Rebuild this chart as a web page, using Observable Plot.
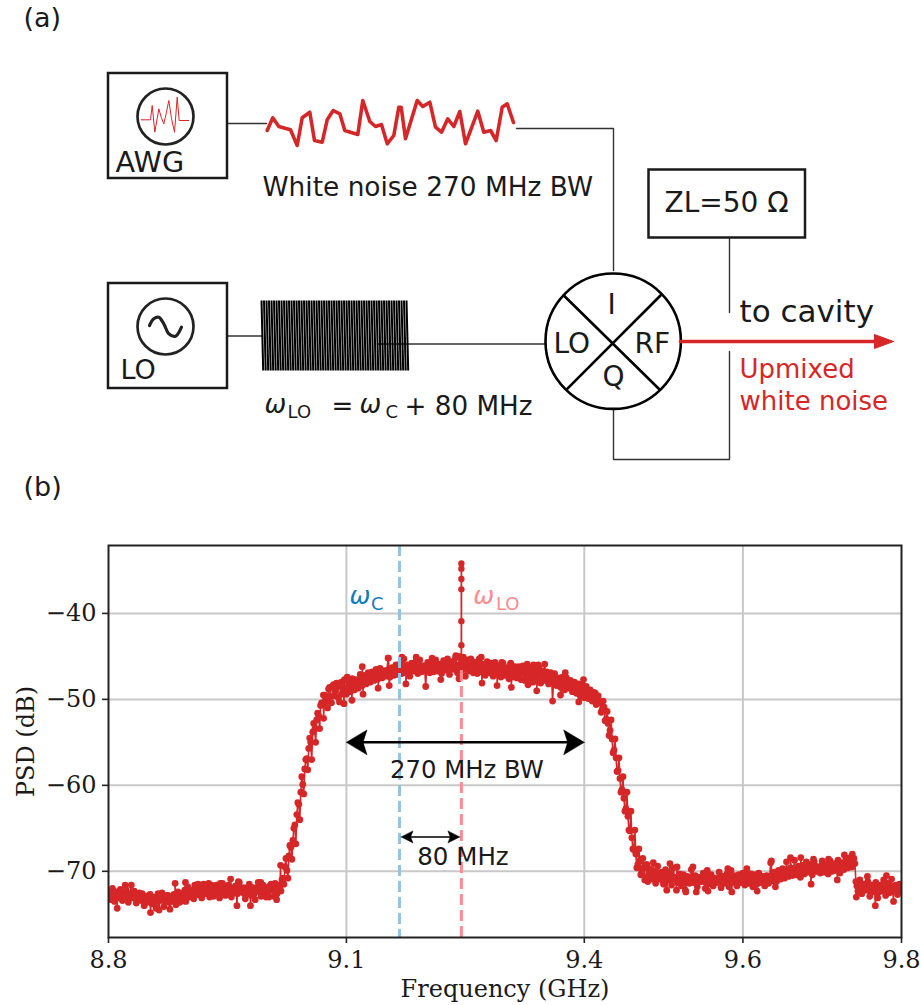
<!DOCTYPE html>
<html><head><meta charset="utf-8">
<script src="https://cdn.jsdelivr.net/npm/d3@7"></script>
<script src="https://cdn.jsdelivr.net/npm/@observablehq/plot@0.6"></script>
<style>html,body{margin:0;padding:0;background:#fff}svg{display:block}</style>
</head><body><div id="a"></div><div id="b"></div>
<script>
// ---- spectrum values (dB); each run starts at the given frequency
const stepGHz = 0.0025;
const lowLeftStart = 8.8;
const lowLeftPsd = [-72.5,-73.3,-72.0,-73.5,-72.4,-73.0,-72.1,-73.4,-72.7,-72.2,-73.6,-72.6,-73.1,-72.3,-73.7,-72.8,-73.2,-72.6,-74.0,-72.9,-73.5,-72.7,
-73.8,-73.0,-74.3,-72.6,-73.4,-72.5,-74.1,-73.2,-72.8,-74.4,-73.1,-72.7,-73.9,-72.4,-73.6,-73.0,-72.5,-73.5,-71.8,-73.0,-72.2,-73.2,-71.6,-72.7,
-72.0,-73.1,-71.5,-72.6,-72.1,-73.0,-71.6,-72.9,-72.3,-71.9,-73.1,-72.4,-71.7,-72.8,-72.2,-71.8,-73.0,-72.5,-71.7,-72.6,-71.3,-72.4,-71.9,-73.2,-72.2,-71.5,-72.8,-71.9,-73.3,-72.3,-71.7,-72.9,-71.6,-72.4,-71.9,-73.0,-71.5,-72.2,-71.4,-72.6,-71.6,-72.3];
const lowLeftPsd2 = [-72.8,-72.6,-73.0,-72.5,-73.1,-72.7,-72.4,-73.0,-72.9,-72.6,-73.2,-71.6,-73.0,-72.8,-73.3,-72.5,-73.4,-72.9,-73.2,-73.6,-72.8,-73.4,
-73.2,-73.6,-73.4,-74.5,-73.0,-73.2,-73.5,-72.8,-73.6,-73.5,-72.9,-73.4,-73.3,-73.1,-72.8,-73.2,-72.2,-72.6,-72.4,-72.3,-72.7,-71.6,-72.2,-72.5,
-72.5,-72.3,-72.3,-72.1,-71.4,-72.4,-72.4,-72.2,-71.6,-72.7,-72.5,-71.4,-72.2,-72.4,-71.6,-72.6,-72.3,-72.1,-72.2,-71.2,-72.0,-72.4,-72.6,-72.7,-71.8,-72.3,-72.3,-72.6,-72.1,-71.3,-72.4,-72.2,-72.0,-73.0,-72.5,-71.7,-72.1,-72.9,-72.0,-71.8,-72.0,-71.0];
const riseStart = 9.02;
const risePsd = [-70.8,-69.5,-69.9,-68.2,-67.2,-66.4,-64.6,-63.4,-62.2,-60.8,-59.9,-58.1,-56.9,-55.7,-55.0,-53.8,-53.5,-52.4,-51.9,-50.7,-50.6,-49.5,-50.2,-48.8,-49.7,-48.5,-49.6,-48.1,-49.8,-48.3,-49.4,-47.7];
const risePsd2 = [-71.5,-68.5,-70.8,-67.0,-68.6,-65.0,-66.8,-62.0,-64.0,-59.0,-61.0,-57.0,-58.2,-54.5,-57.0,-52.8,-55.0,-51.6,-53.4,-50.4,-52.2,-49.6,-51.0,-48.6,-50.4,-48.3,-49.0,-48.5,-50.3,-48.0,-48.9,-48.7];
const plateauStart = 9.10;
const plateauPsd = [-49.4,-47.9,-49.1,-47.6,-48.9,-47.7,-48.7,-47.1,
-48.4,-47.2,-48.2,-46.9,-48.0,-46.8,-47.8,-46.5,-47.6,-46.4,
-47.5,-46.7,-47.3,-45.2,-47.4,-46.3,-47.2,-46.0,-47.1,-45.9,
-47.0,-45.3,-46.9,-46.0,-47.3,-45.8,-46.7,-45.6,-47.0,-45.4,-46.8,-46.1,-48.5,-45.7,-46.9,
-45.6,-46.8,-45.4,-46.7,-45.9,-47.0,-45.5,-46.6,-45.3,-47.1,-45.6,-46.5,-45.2,-46.9,-45.0,-46.6,
-45.1,-47.3,-45.4,-46.7,-45.5,-46.9,-45.7,-47.0,-45.3,-46.8,-45.9,-47.2,-45.6,-46.9,-45.8,
-47.3,-45.7,-47.1,-46.1,-47.4,-45.8,-47.2,-46.3,-47.6,-45.9,-47.4,-46.2,-47.5,-46.2,-47.7,
-46.1,-47.8,-46.4,-47.5,-46.3,-48.0,-46.5,-47.9,-46.3,-48.1,
-46.7,-47.8,-46.8,-48.2,-46.9,-50.2,-47.0,-48.4,-47.5,-48.6,
-47.4,-48.9,-47.5,-48.7,-47.8,-49.1,-48.0,-49.3,-48.2,-49.6,-48.3,-49.8,
-48.5,-49.9,-48.9,-50.2,-49.2,-50.6,-49.6];
const plateauPsd2 = [-48.7,-48.4,-48.3,-48.6,-47.9,-48.2,-48.0,-47.9,
-47.6,-48.0,-47.5,-47.4,-47.3,-47.6,-47.2,-47.1,-47.0,-47.3,
-46.9,-46.9,-46.6,-46.8,-46.5,-46.9,-46.6,-46.7,-46.4,-46.6,
-46.3,-46.5,-46.5,-46.2,-46.6,-46.3,-46.1,-46.4,-46.4,-46.2,-46.1,-46.5,-46.3,-46.2,-46.4,
-46.2,-46.1,-46.3,-46.0,-46.4,-46.2,-46.1,-46.0,-46.3,-46.2,-45.9,-46.1,-46.0,-46.2,-45.9,-45.8,
-45.9,-46.1,-46.2,-46.0,-46.3,-46.1,-46.4,-46.2,-46.0,-46.4,-46.3,-46.5,-46.2,-46.5,-46.3,
-46.6,-46.4,-46.6,-46.5,-46.7,-46.6,-46.5,-46.8,-46.7,-46.6,-46.9,-46.7,-46.8,-47.0,-46.8,
-47.0,-47.1,-46.9,-47.2,-47.1,-47.0,-47.3,-47.2,-47.1,-47.4,
-47.3,-47.5,-47.4,-47.7,-47.5,-47.8,-47.7,-47.8,-48.0,-48.0,
-48.1,-48.2,-48.1,-48.4,-48.5,-48.4,-48.7,-48.7,-48.9,-48.8,-49.1,-49.0,
-49.2,-49.4,-49.4,-49.8,-49.9,-50.0,-50.4];
const fallStart = 9.42;
const fallPsd = [-50.3,-51.2,-50.9,-52.3,-52.8,-53.6,-54.6,-55.9,-56.8,-58.3,-59.2,-60.5,-61.5,-62.7,-63.6,-65.3,-66.1,-67.5,-68.0,-69.2,-68.8,-70.0,-69.6,-70.9];
const fallPsd2 = [-51.5,-50.2,-52.5,-51.4,-54.2,-52.4,-56.2,-54.6,-58.4,-56.8,-60.8,-59.0,-63.0,-60.8,-65.2,-63.0,-67.4,-65.2,-69.6,-67.4,-70.4,-68.5,-71.0,-69.2];
const lowRightStart = 9.48;
const lowRightPsd = [-71.2,-69.7,-70.9,-70.0,-71.4,-69.4,-70.8,-70.1,-71.5,-69.8,-71.0,-70.2,-71.6,-69.6,-70.7,-71.3,
-70.3,-71.7,-70.4,-72.2,-70.6,-71.4,-69.8,-71.3,-70.5,-71.8,-70.7,-71.2,-70.2,-72.0,-70.6,-71.5,-70.4,-71.7,-70.8,-71.3,-70.1,-71.9,-70.6,-71.4,-70.3,-71.8,-69.9,-71.2,-70.5,-71.7,-70.4,-71.3,
-70.2,-71.6,-70.5,-71.4,-70.3,-71.8,-70.4,-71.5,-70.2,-71.3,-70.6,-71.7,-70.5,
-71.4,-69.0,-71.1,-70.1,-71.2,-69.9,-70.9,-69.7,-70.8,-68.9,-70.6,-69.6,
-70.5,-68.7,-70.4,-69.4,-70.7,-69.3,-70.3,-68.9,-70.1,-69.2,
-70.4,-68.9,-70.0,-69.5,-70.2,-68.8,-70.1,-69.2,-70.3,-68.8,
-70.0,-69.1,-69.9,-68.7,-70.2,-69.0,-69.8,-68.5,-69.6,-68.4,-69.5,-68.5,
-71.2,-72.3,-71.0,-72.6,-71.5,-72.0,-71.2,-72.9,-71.6,-72.4,-71.3,-73.1,-71.8,-72.3,-71.0,-72.8,-71.4,-72.5,-70.9,-72.2,-71.6,-72.7,-71.5,-72.3];
const lowRightPsd2 = [-70.5,-70.3,-70.6,-70.7,-70.2,-70.9,-70.5,-71.1,-70.6,-70.8,-70.5,-71.0,-70.7,-70.9,-72.2,-70.8,
-70.9,-71.1,-71.0,-70.8,-71.3,-71.0,-71.2,-70.9,-72.4,-71.0,-71.1,-70.9,-71.2,-71.0,-71.1,-70.7,-71.0,-71.2,-70.9,-71.1,-70.8,-71.0,-71.2,-70.9,-71.0,-70.7,-71.1,-71.3,-70.9,-71.0,-70.8,-71.1,
-70.9,-71.0,-70.8,-71.1,-70.9,-70.7,-71.0,-70.8,-70.9,-70.6,-71.0,-70.8,-70.9,
-70.6,-70.8,-70.5,-70.7,-70.4,-70.6,-70.2,-70.5,-70.1,-70.4,-70.0,-70.3,
-69.9,-70.1,-69.8,-70.0,-69.7,-69.9,-69.6,-69.8,-69.7,-69.9,
-69.6,-69.8,-69.5,-69.7,-69.4,-69.6,-69.5,-69.3,-69.6,-69.4,
-69.5,-69.3,-69.6,-69.2,-69.4,-69.5,-69.1,-69.3,-69.0,-69.2,-68.9,-69.1,
-71.7,-71.9,-71.6,-72.1,-71.8,-72.2,-71.7,-72.0,-71.8,-72.2,-71.9,-72.4,-71.6,-71.9,-72.3,-71.9,-72.1,-71.8,-72.2,-71.9,-72.0,-72.2,-71.8,-71.9];
// isolated points on the edge of the noise band
const spurF = [8.811,8.821,8.853,8.884,8.897,8.913,8.941,8.954,8.962,8.979,8.992,9.012,9.017,
  9.071,9.101,9.12,9.153,9.17,9.188,9.208,9.238,9.257,9.27,9.296,9.307,9.328,9.336,9.342,9.35,9.376,9.399,9.414,
  9.097,9.107,9.121,9.14,9.154,9.175,9.219,9.242,9.271,9.29,9.308,9.329,9.34,9.37,9.393,
  9.487,9.508,9.517,9.537,9.555,9.581,9.605,9.636,9.66,9.673,9.689,9.708,9.728,9.738,9.757,9.781,
  9.504,9.528,9.556,9.586,9.618,9.641,9.686,9.719,9.743,9.767,9.79];
const spurPsd = [-74.3,-71.6,-74.8,-71.4,-71.3,-71.5,-71.4,-70.9,-74,-74,-71.3,-73.3,-69.3,
  -49.5,-47.4,-46.2,-45.2,-45.1,-45.1,-45.2,-44.9,-45.3,-45.1,-45.7,-45.8,-45.9,-46,-46,-45.9,-46.9,-47.7,-49.3,
  -50.5,-50.1,-49.4,-48.7,-48.4,-48.2,-47.7,-47.6,-48.1,-48.4,-48.6,-48.3,-49,-49.5,-50.3,
  -69,-69.1,-69.5,-69.5,-69.9,-69.7,-69.7,-68.8,-68.4,-68.4,-68.6,-68.6,-68.1,-68,-70.6,-70.5,
  -72.2,-72.4,-72.3,-72.4,-72.3,-71.8,-71.5,-71,-73,-74,-73.5];
const loFreq = 9.245, cavityFreq = 9.167;
const spikePsd = [-45.5,-43.7,-40.9,-37.2,-36,-34.8,-34.2];
const xTicks = [8.8,9.1,9.4,9.6,9.8];
const yTicks = [-40,-50,-60,-70];

const red = "#d62728", ink = "#1a1a1a", sans = "DejaVu Sans", serif = "DejaVu Serif";
const run = (start, vals) => vals.map((p, i) => ({f: start + i * stepGHz, p}));
const half = stepGHz / 2;
const spectrum = [
  ...run(lowLeftStart, lowLeftPsd), ...run(lowLeftStart + half, lowLeftPsd2),
  ...run(riseStart, risePsd), ...run(riseStart + half, risePsd2),
  ...run(plateauStart, plateauPsd), ...run(plateauStart + half, plateauPsd2),
  ...run(fallStart, fallPsd), ...run(fallStart + half, fallPsd2),
  ...run(lowRightStart, lowRightPsd), ...run(lowRightStart + half, lowRightPsd2),
  ...spurF.map((f, i) => ({f, p: spurPsd[i]}))
].sort((a, b) => a.f - b.f);
const spike = spikePsd.map(p => ({f: loFreq, p}));

// ---- schematic (a): drawn in the picture's own units
const boxes = [
  {x1:108,x2:227,y1:73,y2:178},{x1:108,x2:227,y1:283,y2:388},{x1:648.5,x2:805,y1:169.5,y2:237.5}];
const dials = [{x:165,y:116},{x:165,y:326}];
const wires = [
  [[227,123],[266,123]],
  [[516,128],[613,128],[613,270]],
  [[227,335.5],[262,335.5]],
  [[378,343.5],[545,343.5]],
  [[729,237],[729,312]],
  [[729,351],[729,459],[613,459],[613,408]]];
const noiseTrace = [[266.7,130],[272.3,117.3],[278.3,126],[290,129.3],[296.7,145],[301.7,117.3],[309.3,111.7],[314,140],[321.7,141.7],[326.7,119.3],[332.7,110],[339.3,113.3],[344.3,130],[357.3,134],[362.3,100],[369.3,121],[375,126],[381,124],[386.7,143.3],[393.3,135],[398.3,106.7],[400.7,106.7],[405,138.3],[416.7,100],[422.3,106],[429.3,101.7],[435,126.7],[441,131.7],[447.3,118.3],[453.3,126],[459.3,111],[465,143.3],[477.3,110.7],[483.3,131.7],[490,130],[495.7,140],[501.7,106.7],[506.7,103.3],[513,122]];
const awgIcon = [[140.7,119.3],[150,119.3],[151.7,105],[154.3,131.7],[156.7,118],[158.3,108.3],[160.7,116.7],[163.3,123.3],[165.7,113],[168.3,100],[171,118],[174,131.7],[176.7,96.7],[178.7,120],[188.3,120]];
const loIcon = [[149,325],[153.3,318.3],[158.3,316.7],[163.3,323.3],[168.3,333.3],[175,335.7],[181,326.7]];
const carrierX = [261,263.5,266,268.5,271,273.5,276,278.5,281,283.5,286,288.5,291,293.5,296,298.5,301,303.5,306,308.5,311,313.5,316,318.5,321,323.5,326,328.5,331,333.5,336,338.5,341,343.5,346,348.5,351,353.5,356,358.5,361,363.5,366,368.5,371,373.5,376,378.5,381,383.5,386,388.5,391,393.5,396,398.5,401,403.5,406];
const mixer = {x:612.7,y:340.7};
const mixerCross = [[[563.3,295],[658.3,388.3]],[[660,295],[566.7,388.3]]];
const outShaft = [[680,341],[880,341]];
const outHead = [[893,341],[874,334],[874,348],[893,341]];
const labels = [
  {x:23,y:18,t:"(a)",s:27},{x:23,y:487,t:"(b)",s:27},
  {x:115,y:162,t:"AWG",s:28.7},{x:120,y:370,t:"LO",s:27},
  {x:262,y:187,t:"White noise 270 MHz BW",s:26.4},
  {x:664,y:203,t:"ZL=50 Ω",s:28},
  {x:739,y:312,t:"to cavity",s:31},
  {x:553,y:344,t:"LO",s:28},{x:634,y:344,t:"RF",s:28},
  {x:287,y:412,t:"LO",s:18},{x:385,y:412,t:"C",s:18},
  {x:331,y:406,t:"=",s:26},{x:404,y:406,t:"+ 80 MHz",s:26.2},
  {x:607,y:305,t:"I",s:28},{x:602,y:377,t:"Q",s:28}];
const omegas = [{x:264,y:404},{x:359,y:404}];
const redLabels = [{x:739,y:369,t:"Upmixed"},{x:739,y:401,t:"white noise"}];

const line = (pts, o) => Plot.line(pts, {curve:"linear", ...o});
const schematic = Plot.plot({
  width:921, height:535, margin:0,
  x:{domain:[0,921],range:[0,921],axis:null}, y:{domain:[0,535],range:[0,535],axis:null},
  marks:[
    ...wires.map(w => line(w,{stroke:"#333",strokeWidth:1.4,strokeLinejoin:"miter"})),
    Plot.rect(boxes,{x1:"x1",x2:"x2",y1:"y1",y2:"y2",fill:"none",stroke:ink,strokeWidth:2.5}),
    Plot.dot(dials,{x:"x",y:"y",r:28,fill:"none",stroke:"#222",strokeWidth:2.7}),
    line(awgIcon,{stroke:red,strokeWidth:1}),
    line(loIcon,{stroke:"#222",strokeWidth:3.2,curve:"catmull-rom"}),
    line(noiseTrace,{stroke:red,strokeWidth:3.6}),
    Plot.link(carrierX,{x1:d=>d,x2:d=>d+1.7,y1:()=>300,y2:()=>370,stroke:"#000",strokeWidth:2}),
    Plot.dot([mixer],{x:"x",y:"y",r:67.7,fill:"none",stroke:"#000",strokeWidth:2.6}),
    ...mixerCross.map(c => line(c,{stroke:"#000",strokeWidth:2.6})),
    line(outShaft,{stroke:red,strokeWidth:3.4}),
    line(outHead,{stroke:red,fill:red,strokeWidth:1}),
    Plot.text(labels,{x:"x",y:"y",text:"t",fontSize:"s",fontFamily:sans,textAnchor:"start",fill:"#1a1a1a"}),
    Plot.text(omegas,{x:"x",y:"y",text:()=>"ω",fontSize:26,fontStyle:"italic",fontFamily:sans,textAnchor:"start",fill:"#1a1a1a"}),
    Plot.text(redLabels,{x:"x",y:"y",text:"t",fontSize:26,fontFamily:sans,textAnchor:"start",fill:red})
  ]
});
document.getElementById("a").append(schematic);

// ---- spectrum (b)
const bwY = -55, bwL = 9.1, bwR = 9.4;
const narrowY = -66, narrowL = 9.169, narrowR = 9.243;
const bwHeadL = [[bwL,bwY],[bwL+0.026,bwY+1.45],[bwL+0.021,bwY],[bwL+0.026,bwY-1.45],[bwL,bwY]];
const bwHeadR = [[bwR,bwY],[bwR-0.026,bwY+1.45],[bwR-0.021,bwY],[bwR-0.026,bwY-1.45],[bwR,bwY]];
const nHeadL = [[narrowL,narrowY],[narrowL+0.015,narrowY+0.7],[narrowL+0.012,narrowY],[narrowL+0.015,narrowY-0.7],[narrowL,narrowY]];
const nHeadR = [[narrowR,narrowY],[narrowR-0.015,narrowY+0.7],[narrowR-0.012,narrowY],[narrowR-0.015,narrowY-0.7],[narrowR,narrowY]];

const chart = Plot.plot({
  width:921, height:470, marginTop:10, marginBottom:68, marginLeft:108, marginRight:20,
  x:{domain:[8.8,9.8]}, y:{domain:[-77.7,-32.1]},
  style:{background:"#fff"},
  marks:[
    Plot.gridX(xTicks.slice(1,-1),{stroke:"#c8c8c8",strokeOpacity:1,strokeWidth:2}),
    Plot.gridY(yTicks,{stroke:"#c8c8c8",strokeOpacity:1,strokeWidth:2}),
    Plot.line(spectrum,{x:"f",y:"p",stroke:red,strokeWidth:1.6,clip:"frame"}),
    Plot.dot(spectrum,{x:"f",y:"p",r:3.4,fill:red,clip:"frame"}),
    Plot.line(spike,{x:"f",y:"p",stroke:red,strokeWidth:1.8}),
    Plot.dot(spike,{x:"f",y:"p",r:3.2,fill:red}),
    Plot.ruleX([cavityFreq],{stroke:"#8fc4e6",strokeWidth:3,strokeDasharray:"11,5"}),
    Plot.ruleX([loFreq],{y1:-77.7,y2:-46.5,stroke:"#ff8a8f",strokeWidth:3,strokeDasharray:"11,5"}),
    Plot.line([[bwL+0.015,bwY],[bwR-0.015,bwY]],{stroke:"#000",strokeWidth:2.5}),
    Plot.line(bwHeadL,{stroke:"#000",fill:"#000",strokeWidth:0.5}),
    Plot.line(bwHeadR,{stroke:"#000",fill:"#000",strokeWidth:0.5}),
    Plot.line([[narrowL+0.006,narrowY],[narrowR-0.006,narrowY]],{stroke:"#000",strokeWidth:1.5}),
    Plot.line(nHeadL,{stroke:"#000",fill:"#000",strokeWidth:0.5}),
    Plot.line(nHeadR,{stroke:"#000",fill:"#000",strokeWidth:0.5}),
    Plot.text(["270 MHz BW"],{x:()=>9.252,y:()=>-58.2,fontSize:24.3,fontFamily:sans,fill:"#1a1a1a"}),
    Plot.text(["80 MHz"],{x:()=>9.247,y:()=>-68.3,fontSize:24.5,fontFamily:sans,fill:"#1a1a1a"}),
    Plot.text(["ω"],{x:()=>9.104,y:()=>-38,fontSize:25,fontStyle:"italic",fontFamily:sans,textAnchor:"start",fill:"#0f7cc0"}),
    Plot.text(["C"],{x:()=>9.131,y:()=>-38.9,fontSize:18,fontFamily:sans,textAnchor:"start",fill:"#0f7cc0"}),
    Plot.text(["ω"],{x:()=>9.26,y:()=>-38,fontSize:25,fontStyle:"italic",fontFamily:sans,textAnchor:"start",fill:"#ff8a8f"}),
    Plot.text(["LO"],{x:()=>9.2885,y:()=>-38.9,fontSize:18,fontFamily:sans,textAnchor:"start",fill:"#ff8a8f"}),
    Plot.frame({stroke:"#222",strokeWidth:2}),
    Plot.axisX({ticks:xTicks,tickFormat:d3.format(".1f"),tickSize:6,tickPadding:7,fontSize:24,fontFamily:serif,stroke:"#222",strokeWidth:1.6,color:"#1a1a1a",
      label:"Frequency (GHz)",labelAnchor:"center",labelArrow:"none",labelOffset:59}),
    Plot.axisY({ticks:yTicks,tickSize:6,tickPadding:6,fontSize:24,fontFamily:serif,stroke:"#222",strokeWidth:1.6,color:"#1a1a1a",
      label:"PSD (dB)",labelAnchor:"center",labelArrow:"none",labelOffset:92})
  ]
});
document.getElementById("b").append(chart);
</script></body></html>
